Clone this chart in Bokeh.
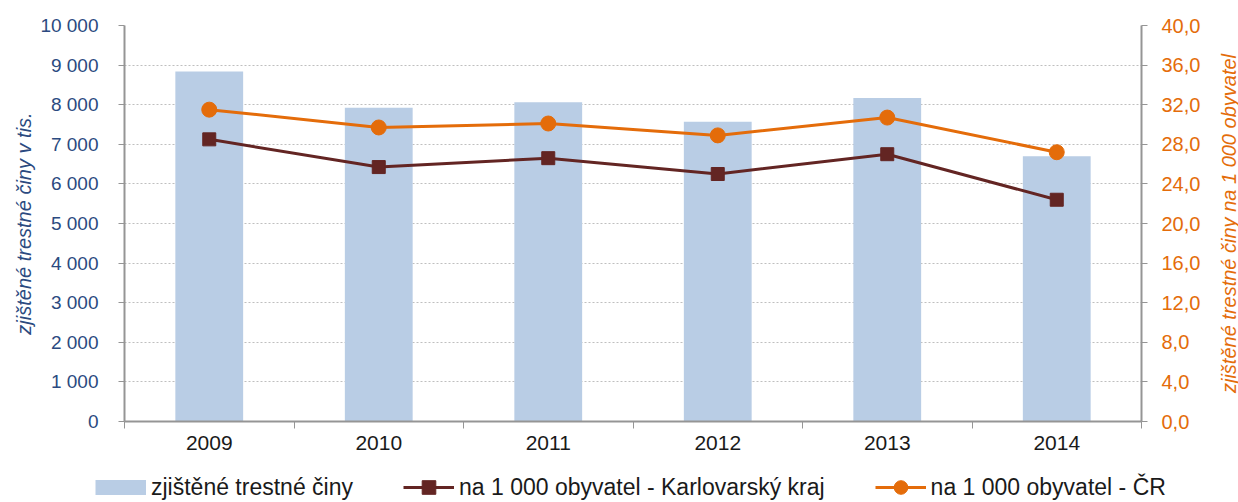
import math
from bokeh.plotting import figure
from bokeh.layouts import row, column
from bokeh.models import (Range1d, LinearAxis, FixedTicker, Legend, LegendItem,
                          ColumnDataSource, Label)
from bokeh.embed import file_html
from bokeh.resources import INLINE

# ---------------- data ----------------
years = ["2009", "2010", "2011", "2012", "2013", "2014"]
crimes = [8840, 7920, 8060, 7570, 8170, 6700]            # zjištěné trestné činy
karlovarsky = [28.5, 25.7, 26.6, 25.0, 27.0, 22.4]      # na 1 000 obyvatel - Karlovarský kraj
cr = [31.5, 29.7, 30.1, 28.9, 30.7, 27.2]               # na 1 000 obyvatel - ČR

left_ticks = [0, 1000, 2000, 3000, 4000, 5000, 6000, 7000, 8000, 9000, 10000]
left_tick_labels = ["0", "1 000", "2 000", "3 000", "4 000", "5 000",
                    "6 000", "7 000", "8 000", "9 000", "10 000"]
right_ticks = [0, 4, 8, 12, 16, 20, 24, 28, 32, 36, 40]
right_tick_labels = ["0,0", "4,0", "8,0", "12,0", "16,0", "20,0",
                     "24,0", "28,0", "32,0", "36,0", "40,0"]

left_title = "zjištěné trestné činy v tis."
right_title = "zjištěné trestné činy na 1 000 obyvatel"
legend_labels = ["zjištěné trestné činy",
                 "na 1 000 obyvatel - Karlovarský kraj",
                 "na 1 000 obyvatel - ČR"]

# ---------------- styles ----------------
BAR = "#B9CDE5"
DARK = "#632523"
ORANGE = "#E46C0A"
BLUE_TXT = "#2B4A80"
AXIS = "#959595"
GRID = "#BFBFBF"
FONT = "Liberation Sans"

n = len(years)
centers = [i + 0.5 for i in range(n)]
bounds = list(range(n + 1))

src = ColumnDataSource(dict(x=centers, year=years, crimes=crimes,
                            kv=karlovarsky, cr=cr))

TOTAL_W = 1238
SIDE_W = 28
MAIN_W = TOTAL_W - SIDE_W
MAIN_H = 462
LEG_H = 40
FRAME_TOP, FRAME_BOTTOM = 25, 421

p = figure(width=MAIN_W, height=MAIN_H,
           x_range=Range1d(0, n), y_range=Range1d(0, 10000),
           output_backend="svg", toolbar_location=None,
           min_border_left=124, min_border_right=MAIN_W - 1141,
           min_border_top=FRAME_TOP, min_border_bottom=MAIN_H - FRAME_BOTTOM)
p.extra_y_ranges = {"right": Range1d(0, 40)}
p.outline_line_color = None
p.background_fill_color = "white"
p.border_fill_color = "white"

# bars
p.vbar(x="x", top="crimes", width=0.4, source=src, fill_color=BAR,
       line_color=None)

# lines
p.line(x="x", y="kv", source=src, line_color=DARK, line_width=3,
       y_range_name="right")
p.scatter(x="x", y="kv", source=src, marker="square", size=13,
          fill_color=DARK, line_color=DARK, y_range_name="right")
p.line(x="x", y="cr", source=src, line_color=ORANGE, line_width=3,
       y_range_name="right")
p.scatter(x="x", y="cr", source=src, marker="circle", size=15,
          fill_color=ORANGE, line_color=ORANGE, y_range_name="right")

# ---------------- axes ----------------
xa = p.xaxis[0]
xa.ticker = FixedTicker(ticks=centers, minor_ticks=bounds)
xa.major_label_overrides = {c: y for c, y in zip(centers, years)}
xa.major_tick_out = 0
xa.major_tick_in = 0
xa.minor_tick_out = 7
xa.minor_tick_in = 0
xa.minor_tick_line_color = AXIS
xa.minor_tick_line_width = 1
xa.axis_line_color = AXIS
xa.axis_line_width = 2
xa.major_label_standoff = 7
xa.major_label_text_font = FONT
xa.major_label_text_font_size = "21px"
xa.major_label_text_color = "#1A1A1A"

ya = p.yaxis[0]
ya.ticker = FixedTicker(ticks=left_ticks)
ya.major_label_overrides = {t: l for t, l in zip(left_ticks, left_tick_labels)}
ya.minor_tick_line_color = None
ya.major_tick_out = 6
ya.major_tick_in = 0
ya.major_tick_line_color = AXIS
ya.axis_line_color = AXIS
ya.axis_line_width = 2
ya.major_label_standoff = 20
ya.major_label_text_font = FONT
ya.major_label_text_font_size = "19px"
ya.major_label_text_color = BLUE_TXT
ya.axis_label = left_title
ya.axis_label_text_font = FONT
ya.axis_label_text_font_style = "italic"
ya.axis_label_text_font_size = "20px"
ya.axis_label_text_color = BLUE_TXT
ya.axis_label_standoff = 2

ra = LinearAxis(y_range_name="right", ticker=FixedTicker(ticks=right_ticks))
ra.major_label_overrides = {t: l for t, l in zip(right_ticks, right_tick_labels)}
ra.minor_tick_line_color = None
ra.major_tick_out = 6
ra.major_tick_in = 0
ra.major_tick_line_color = AXIS
ra.axis_line_color = AXIS
ra.axis_line_width = 2
ra.major_label_standoff = 14
ra.major_label_text_font = FONT
ra.major_label_text_font_size = "20px"
ra.major_label_text_color = ORANGE
p.add_layout(ra, "right")

p.xgrid.visible = False
p.ygrid.ticker = FixedTicker(ticks=left_ticks)
p.ygrid.grid_line_color = GRID
p.ygrid.grid_line_dash = "2 2"
p.ygrid.grid_line_width = 1

# ---------------- right-hand axis title (reads bottom-to-top) ----------------
side = figure(width=SIDE_W, height=MAIN_H, x_range=Range1d(0, 1), y_range=Range1d(0, 1),
              output_backend="svg", toolbar_location=None,
              min_border=0, outline_line_color=None)
side.axis.visible = False
side.grid.visible = False
# the row aligns this frame with the main frame (25 .. 421 px)
side.add_layout(Label(x=1228 - MAIN_W, y=FRAME_BOTTOM - 223,
                      x_units="screen", y_units="screen",
                      text=right_title, angle=math.pi / 2,
                      text_align="center", text_baseline="middle",
                      text_font=FONT, text_font_style="italic",
                      text_font_size="20px", text_color=ORANGE))

# ---------------- legend strip ----------------
leg = figure(width=TOTAL_W, height=LEG_H, x_range=Range1d(0, 1), y_range=Range1d(0, 1),
             output_backend="svg", toolbar_location=None,
             min_border=0, outline_line_color=None)
leg.axis.visible = False
leg.grid.visible = False
# proxies drawn with the real data, which lies outside this strip's ranges
lb = leg.line(x=centers, y=crimes, line_color=BAR, line_width=15)
lk1 = leg.line(x=centers, y=karlovarsky, line_color=DARK, line_width=3)
lk2 = leg.scatter(x=centers, y=karlovarsky, marker="square",
                  fill_color=DARK, line_color=DARK)
lc1 = leg.line(x=centers, y=cr, line_color=ORANGE, line_width=3)
lc2 = leg.scatter(x=centers, y=cr, marker="circle",
                  fill_color=ORANGE, line_color=ORANGE)
legend = Legend(items=[
    LegendItem(label=legend_labels[0], renderers=[lb]),
    LegendItem(label=legend_labels[1], renderers=[lk1, lk2]),
    LegendItem(label=legend_labels[2], renderers=[lc1, lc2]),
], orientation="horizontal", location=(95, -2),
    glyph_width=51, glyph_height=34, label_standoff=5, spacing=50,
    padding=0, margin=0, border_line_color=None, background_fill_alpha=0,
    label_text_font=FONT, label_text_font_size="23px",
    label_text_color="#1A1A1A")
leg.add_layout(legend)

layout = column(row(p, side, spacing=0), leg, spacing=0)
open("out.html", "w").write(file_html(layout, INLINE))
